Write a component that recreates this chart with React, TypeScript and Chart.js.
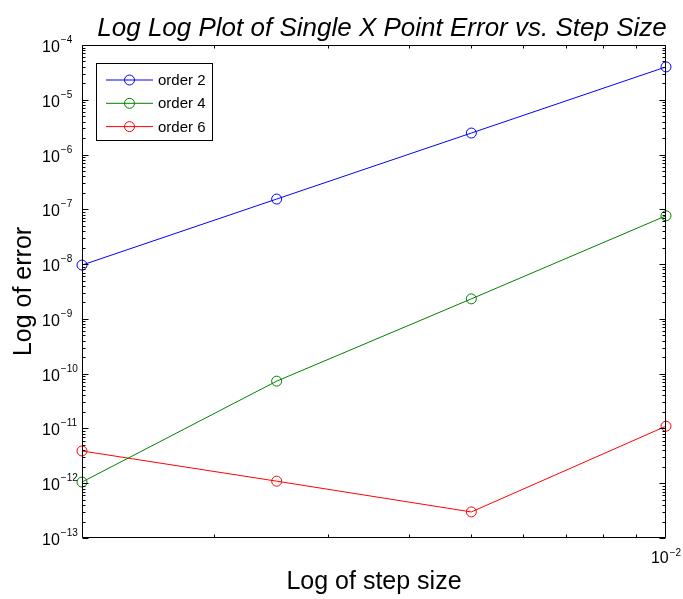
import React, { useEffect, useRef } from "react";
import { Chart, registerables } from "chart.js";

Chart.register(...registerables);

const stepSizes = [0.00125, 0.0025, 0.005, 0.01];
const order2 = [9.6e-9, 1.54e-7, 2.47e-6, 3.98e-5];
const order4 = [1.05e-12, 7.3e-11, 2.32e-9, 7.62e-8];
const order6 = [3.88e-12, 1.09e-12, 2.99e-13, 1.1e-11];
const seriesLabels = ["order 2", "order 4", "order 6"];
const seriesColors = ["#0000ff", "#008000", "#ff0000"];
const yTickExponents = [-13, -12, -11, -10, -9, -8, -7, -6, -5, -4];
const xTickExponents = [-2];
const xMinorTicks = [0.002, 0.003, 0.004, 0.005, 0.006, 0.007, 0.008, 0.009];
const titleText = "Log Log Plot of Single X Point Error vs. Step Size";
const xTitleText = "Log of step size";
const yTitleText = "Log of error";

const FONT = '"Liberation Sans", Arial, Helvetica, sans-serif';

const matlabPlugin = {
  id: "matlabAxes",
  afterDraw(chart: any) {
    const ctx = chart.ctx as CanvasRenderingContext2D;
    const xs = chart.scales.x;
    const ys = chart.scales.y;
    const { left, right, top, bottom } = chart.chartArea;
    const L = Math.round(left) + 0.5;
    const R = Math.round(right) - 0.5;
    const T = Math.round(top) + 0.5;
    const B = Math.round(bottom) - 0.5;
    ctx.save();
    ctx.strokeStyle = "#000";
    ctx.lineWidth = 1;
    ctx.beginPath();
    ctx.rect(L, T, R - L, B - T);
    ctx.stroke();

    // y ticks
    ctx.beginPath();
    yTickExponents.forEach((e) => {
      const p = Math.round(ys.getPixelForValue(Math.pow(10, e))) + 0.5;
      ctx.moveTo(L, p);
      ctx.lineTo(L + 6, p);
      ctx.moveTo(R, p);
      ctx.lineTo(R - 6, p);
      if (e < -4) {
        for (let k = 2; k <= 9; k++) {
          const q = Math.round(ys.getPixelForValue(k * Math.pow(10, e))) + 0.5;
          ctx.moveTo(L, q);
          ctx.lineTo(L + 3, q);
          ctx.moveTo(R, q);
          ctx.lineTo(R - 3, q);
        }
      }
    });
    xMinorTicks.forEach((v) => {
      const p = Math.round(xs.getPixelForValue(v)) + 0.5;
      ctx.moveTo(p, B);
      ctx.lineTo(p, B - 3);
      ctx.moveTo(p, T);
      ctx.lineTo(p, T + 3);
    });
    ctx.stroke();

    // tick labels
    ctx.fillStyle = "#000";
    ctx.textAlign = "left";
    ctx.textBaseline = "alphabetic";
    const baseFont = `16px ${FONT}`;
    const expFont = `10px ${FONT}`;
    yTickExponents.forEach((e) => {
      const p = ys.getPixelForValue(Math.pow(10, e));
      ctx.font = baseFont;
      ctx.fillText("10", 42, p + 7);
      const w = ctx.measureText("10").width;
      ctx.font = expFont;
      ctx.fillText("\u2212" + Math.abs(e), 42 + w + 1, p - 2);
    });
    xTickExponents.forEach((e) => {
      const p = xs.getPixelForValue(Math.pow(10, e));
      ctx.font = baseFont;
      const w = ctx.measureText("10").width;
      ctx.font = expFont;
      const ex = "\u2212" + Math.abs(e);
      const we = ctx.measureText(ex).width;
      const x0 = p - (w + 1 + we) / 2;
      ctx.font = baseFont;
      ctx.fillText("10", x0, 563);
      ctx.font = expFont;
      ctx.fillText(ex, x0 + w + 1, 556);
    });

    // titles
    ctx.textAlign = "center";
    ctx.font = `italic 26px ${FONT}`;
    ctx.fillText(titleText, 382, 36);
    ctx.font = `25px ${FONT}`;
    ctx.fillText(xTitleText, (left + right) / 2, 589);
    ctx.save();
    ctx.translate(31, (top + bottom) / 2);
    ctx.rotate(-Math.PI / 2);
    ctx.fillText(yTitleText, 0, 0);
    ctx.restore();

    // legend
    ctx.fillStyle = "#fff";
    ctx.fillRect(96.5, 63.5, 116, 77);
    ctx.strokeStyle = "#000";
    ctx.strokeRect(96.5, 63.5, 116, 77);
    ctx.font = `15px ${FONT}`;
    ctx.textAlign = "left";
    ctx.textBaseline = "middle";
    seriesLabels.forEach((lab, i) => {
      const y = 80 + i * 23.3;
      ctx.strokeStyle = seriesColors[i];
      ctx.beginPath();
      ctx.moveTo(106, y);
      ctx.lineTo(153, y);
      ctx.stroke();
      ctx.beginPath();
      ctx.arc(129.5, y, 5, 0, Math.PI * 2);
      ctx.stroke();
      ctx.fillStyle = "#000";
      ctx.fillText(lab, 158, y + 1);
    });
    ctx.restore();
  },
};

export default function App() {
  const ref = useRef<HTMLCanvasElement | null>(null);
  useEffect(() => {
    document.body.style.margin = "0";
    const canvas = ref.current;
    if (!canvas) return;
    const series = [order2, order4, order6];
    const chart = new Chart(canvas, {
      type: "line",
      data: {
        datasets: series.map((vals, i) => ({
          label: seriesLabels[i],
          data: stepSizes.map((x, j) => ({ x, y: vals[j] })),
          borderColor: seriesColors[i],
          backgroundColor: "rgba(0,0,0,0)",
          borderWidth: 1,
          pointRadius: 5,
          pointBorderWidth: 1,
          pointBorderColor: seriesColors[i],
          pointBackgroundColor: "rgba(0,0,0,0)",
          tension: 0,
          clip: false as any,
        })),
      },
      options: {
        animation: false,
        responsive: false,
        devicePixelRatio: 1,
        layout: { padding: { left: 82, right: 17, top: 45, bottom: 61 } },
        plugins: {
          legend: { display: false },
          title: { display: false },
          tooltip: { enabled: false },
        },
        scales: {
          x: {
            type: "logarithmic",
            min: stepSizes[0],
            max: stepSizes[stepSizes.length - 1],
            display: false,
          },
          y: {
            type: "logarithmic",
            min: Math.pow(10, yTickExponents[0]),
            max: Math.pow(10, yTickExponents[yTickExponents.length - 1]),
            display: false,
          },
        },
      },
      plugins: [matlabPlugin],
    });
    return () => chart.destroy();
  }, []);
  return (
    <div style={{ width: 683, height: 599, background: "#fff" }}>
      <canvas ref={ref} width={683} height={599} style={{ display: "block", width: 683, height: 599 }} />
    </div>
  );
}
